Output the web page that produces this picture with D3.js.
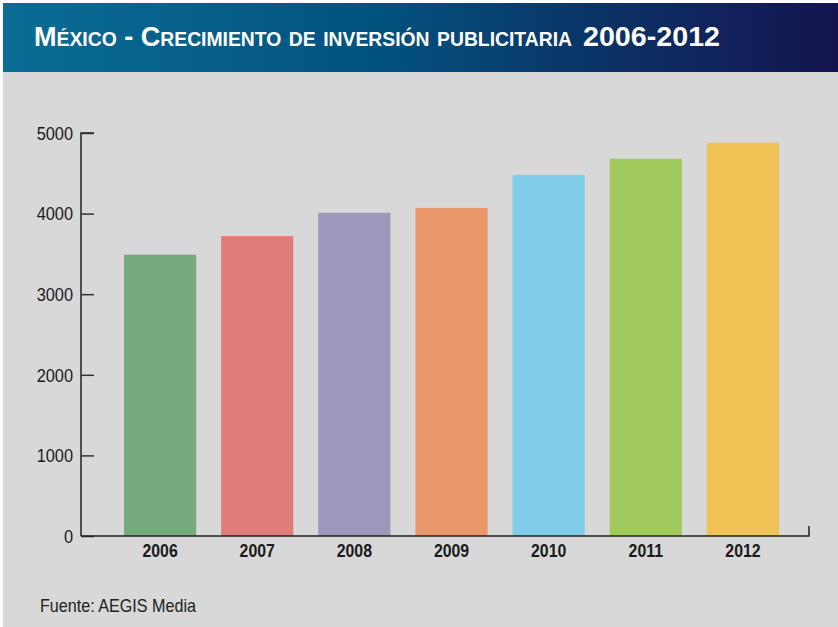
<!DOCTYPE html>
<html><head><meta charset="utf-8">
<script src="https://cdn.jsdelivr.net/npm/d3@7"></script>
<style>
html,body{margin:0;padding:0;background:#fff;}
svg{display:block;}
</style></head>
<body>
<script>
const years = ["2006","2007","2008","2009","2010","2011","2012"];
const values = [3490, 3720, 4010, 4070, 4480, 4680, 4880];
const barColors = ["#76ab7e","#df7b79","#9c98be","#e9966b","#7fcde9","#a1ca5d","#efc255"];
const yTicks = [0,1000,2000,3000,4000,5000];
const titleText = "México - Crecimiento de inversión publicitaria";
const titleYears = "2006-2012";
const sourceText = "Fuente: AEGIS Media";

const W = 838, H = 627;
const svg = d3.select("body").append("svg").attr("width", W).attr("height", H);
const narrow = "'Liberation Sans Narrow','Liberation Sans',sans-serif";

const defs = svg.append("defs");
const grad = defs.append("linearGradient").attr("id","hdr").attr("x1","0").attr("x2","1").attr("y1","0").attr("y2","0");
grad.append("stop").attr("offset","0%").attr("stop-color","#0a6d96");
grad.append("stop").attr("offset","45%").attr("stop-color","#02527e");
grad.append("stop").attr("offset","75%").attr("stop-color","#0c2f63");
grad.append("stop").attr("offset","100%").attr("stop-color","#141450");

svg.append("rect").attr("x",0).attr("y",0).attr("width",W).attr("height",H).attr("fill","#d7d8d7");
svg.append("rect").attr("x",0).attr("y",0).attr("width",W).attr("height",3).attr("fill","#ffffff");
svg.append("rect").attr("x",0).attr("y",0).attr("width",3).attr("height",H).attr("fill","#ffffff");
svg.append("rect").attr("x",3).attr("y",3).attr("width",W-3).attr("height",69).attr("fill","url(#hdr)");

svg.append("text").attr("x",34).attr("y",46)
  .attr("fill","#ffffff")
  .attr("textLength", 538).attr("lengthAdjust","spacingAndGlyphs")
  .style("font-family",narrow).style("font-variant","small-caps")
  .style("font-weight","bold").style("font-size","28px")
  .text(titleText);
svg.append("text").attr("x",583).attr("y",46)
  .attr("fill","#ffffff")
  .attr("textLength", 137).attr("lengthAdjust","spacingAndGlyphs")
  .style("font-family",narrow)
  .style("font-weight","bold").style("font-size","28px")
  .text(titleYears);

const x = d3.scaleBand().domain(years).range([111.5, 791.5]).paddingInner(0.257).paddingOuter(0.1285);
const y = d3.scaleLinear().domain([0,5000]).range([536,133]);

svg.append("g").selectAll("rect").data(years).join("rect")
  .attr("x", d => x(d)).attr("width", x.bandwidth())
  .attr("y", (d,i) => y(values[i])).attr("height", (d,i) => y(0) - y(values[i]))
  .attr("fill", (d,i) => barColors[i]);

const yAxis = svg.append("g").attr("transform","translate(81,0)")
  .call(d3.axisRight(y).tickValues(yTicks).tickSize(13).tickFormat(""));
yAxis.select(".domain").attr("d", `M13,${y(5000)}H0V${y(0)}`).attr("stroke","#222").attr("stroke-width",1.5);
yAxis.selectAll(".tick line").attr("stroke","#333").attr("stroke-width",1.5);

svg.append("g").selectAll("text").data(yTicks).join("text")
  .attr("x",73).attr("y", d => y(d)).attr("dy","0.36em").attr("text-anchor","end")
  .attr("fill","#1a1a1a")
  .style("font-family",narrow)
  .style("font-size","19px").text(d => d)
  .each(function(){ const l = this.getComputedTextLength(); d3.select(this).attr("textLength", l*0.86).attr("lengthAdjust","spacingAndGlyphs"); });

const xAxis = svg.append("g").attr("transform",`translate(0,${y(0)})`)
  .call(d3.axisBottom(x).tickSize(0).tickPadding(8));
xAxis.select(".domain").attr("d", "M81,0H809V-10").attr("stroke","#222").attr("stroke-width",1.5).attr("fill","none");
xAxis.selectAll(".tick text").attr("fill","#1a1a1a")
  .style("font-family",narrow)
  .style("font-weight","bold").style("font-size","18px")
  .each(function(){ const l = this.getComputedTextLength(); d3.select(this).attr("textLength", l*0.88).attr("lengthAdjust","spacingAndGlyphs"); });

svg.append("text").attr("x",40).attr("y",612).attr("fill","#222")
  .attr("textLength",156).attr("lengthAdjust","spacingAndGlyphs")
  .style("font-family",narrow)
  .style("font-size","19px").text(sourceText);
</script>
</body></html>
